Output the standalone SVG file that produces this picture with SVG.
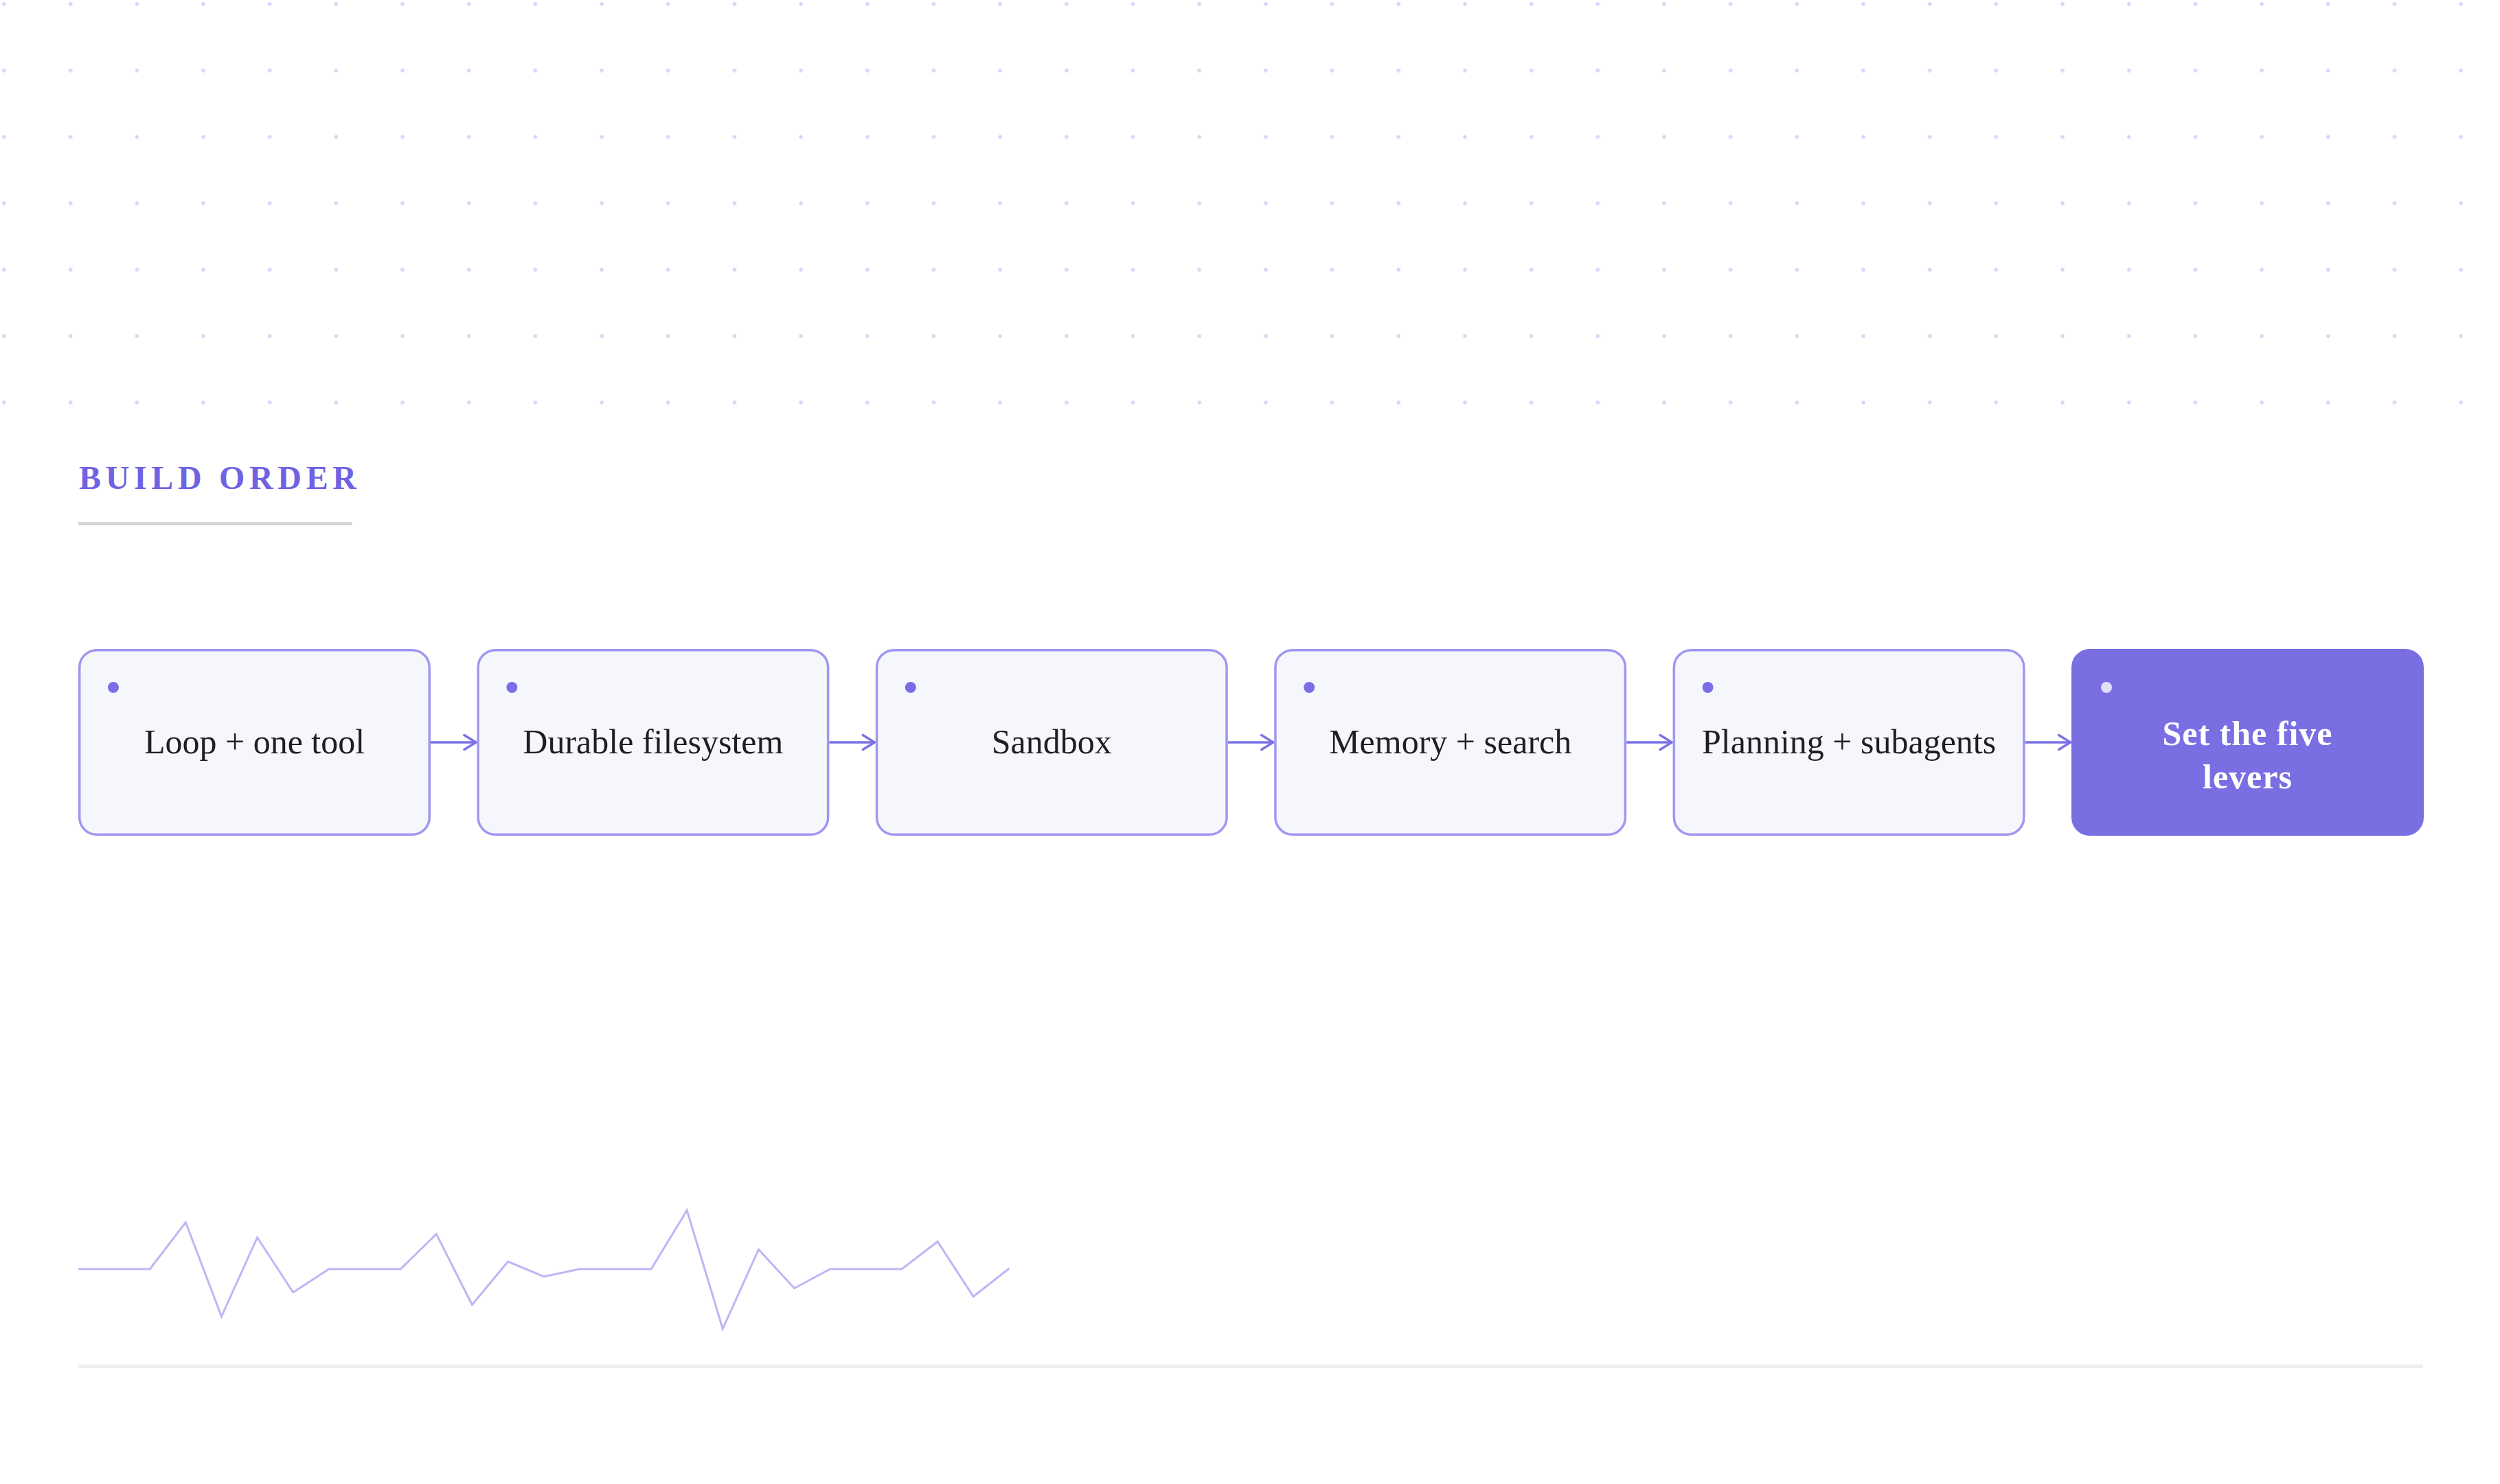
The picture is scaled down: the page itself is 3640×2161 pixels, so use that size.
<svg xmlns="http://www.w3.org/2000/svg" width="3640" height="2161" viewBox="0 0 3640 2161">
  <style>
    .box { fill: #f6f7fd; stroke: #a097f0; stroke-width: 3.5; }
    .box-final { fill: #7a6ee3; stroke: #7a6ee3; stroke-width: 3.5; }
    .dot { fill: #7a6ee6; }
    .dot-final { fill: #e2dffa; }
    .label { font-family: "Liberation Serif", "Times New Roman", serif; font-size: 50px; fill: #1e1e24; text-anchor: middle; }
    .label-final { font-family: "Liberation Serif", "Times New Roman", serif; font-size: 50px; font-weight: bold; fill: #ffffff; text-anchor: middle; letter-spacing: 1px; }
    .title { font-family: "Liberation Serif", "Times New Roman", serif; font-size: 48px; font-weight: bold; fill: #6f63e3; }
    .conn { fill: none; stroke: #7d71e6; stroke-width: 3.5; }
    .spark { fill: none; stroke: #bdb6f6; stroke-width: 3; stroke-linejoin: miter; }
  </style>
  <defs>
    <pattern id="grid" x="0" y="0" width="96.68" height="96.68" patternUnits="userSpaceOnUse">
      <circle cx="6" cy="6" r="2.8" fill="#d9d5f7"/>
    </pattern>
    <marker id="arrow" markerUnits="userSpaceOnUse" markerWidth="24" markerHeight="28" refX="19" refY="12" orient="auto">
      <path d="M2,1.5 L19,12 L2,22.5" fill="none" stroke="#7d71e6" stroke-width="3.5" stroke-linecap="round" stroke-linejoin="round"/>
    </marker>
  </defs>

  <rect x="0" y="0" width="3640" height="2161" fill="#ffffff"/>
  <rect id="dot-grid" x="0" y="0" width="3640" height="630" fill="url(#grid)"/>

  <g id="title">
    <text class="title" x="115" y="712" textLength="404" lengthAdjust="spacing">BUILD ORDER</text>
    <rect x="114" y="760" width="399" height="5" fill="#d6d6d6"/>
  </g>

  <g id="connectors">
    <path class="conn" d="M627,1081 L693,1081" marker-end="url(#arrow)"/>
    <path class="conn" d="M1207.4,1081 L1273.4,1081" marker-end="url(#arrow)"/>
    <path class="conn" d="M1787.8,1081 L1853.8,1081" marker-end="url(#arrow)"/>
    <path class="conn" d="M2368.2,1081 L2434.2,1081" marker-end="url(#arrow)"/>
    <path class="conn" d="M2948.6,1081 L3014.6,1081" marker-end="url(#arrow)"/>
  </g>

  <g id="node-1">
    <rect class="box" x="115.75" y="946.75" width="509.5" height="268.5" rx="25"/>
    <circle class="dot" cx="165" cy="1001" r="8"/>
    <text class="label" x="370.5" y="1097">Loop + one tool</text>
  </g>
  <g id="node-2">
    <rect class="box" x="696.15" y="946.75" width="509.5" height="268.5" rx="25"/>
    <circle class="dot" cx="745.4" cy="1001" r="8"/>
    <text class="label" x="950.9" y="1097">Durable filesystem</text>
  </g>
  <g id="node-3">
    <rect class="box" x="1276.55" y="946.75" width="509.5" height="268.5" rx="25"/>
    <circle class="dot" cx="1325.8" cy="1001" r="8"/>
    <text class="label" x="1531.3" y="1097">Sandbox</text>
  </g>
  <g id="node-4">
    <rect class="box" x="1856.95" y="946.75" width="509.5" height="268.5" rx="25"/>
    <circle class="dot" cx="1906.2" cy="1001" r="8"/>
    <text class="label" x="2111.7" y="1097">Memory + search</text>
  </g>
  <g id="node-5">
    <rect class="box" x="2437.35" y="946.75" width="509.5" height="268.5" rx="25"/>
    <circle class="dot" cx="2486.6" cy="1001" r="8"/>
    <text class="label" x="2692.1" y="1097">Planning + subagents</text>
  </g>
  <g id="node-6">
    <rect class="box-final" x="3017.75" y="946.75" width="509.5" height="268.5" rx="25"/>
    <circle class="dot-final" cx="3067" cy="1001" r="8"/>
    <text class="label-final" x="3272.5" y="1085">Set the five</text>
    <text class="label-final" x="3272.5" y="1148">levers</text>
  </g>

  <g id="sparkline">
    <polyline class="spark" points="114,1848 218.3,1848 270.4,1780 322.5,1917 374.6,1802 426.8,1882 478.9,1848 583.2,1848 635.3,1797 687.4,1900 739.6,1837 791.7,1859 843.8,1848 948.1,1848 1000.2,1762.5 1052.3,1935 1104.5,1819.5 1156.6,1876 1208.7,1848 1313,1848 1365.1,1808 1417.2,1888 1469.5,1847"/>
  </g>

  <rect id="baseline-rule" x="114" y="1987" width="3414" height="5" fill="#efefef"/>
</svg>
